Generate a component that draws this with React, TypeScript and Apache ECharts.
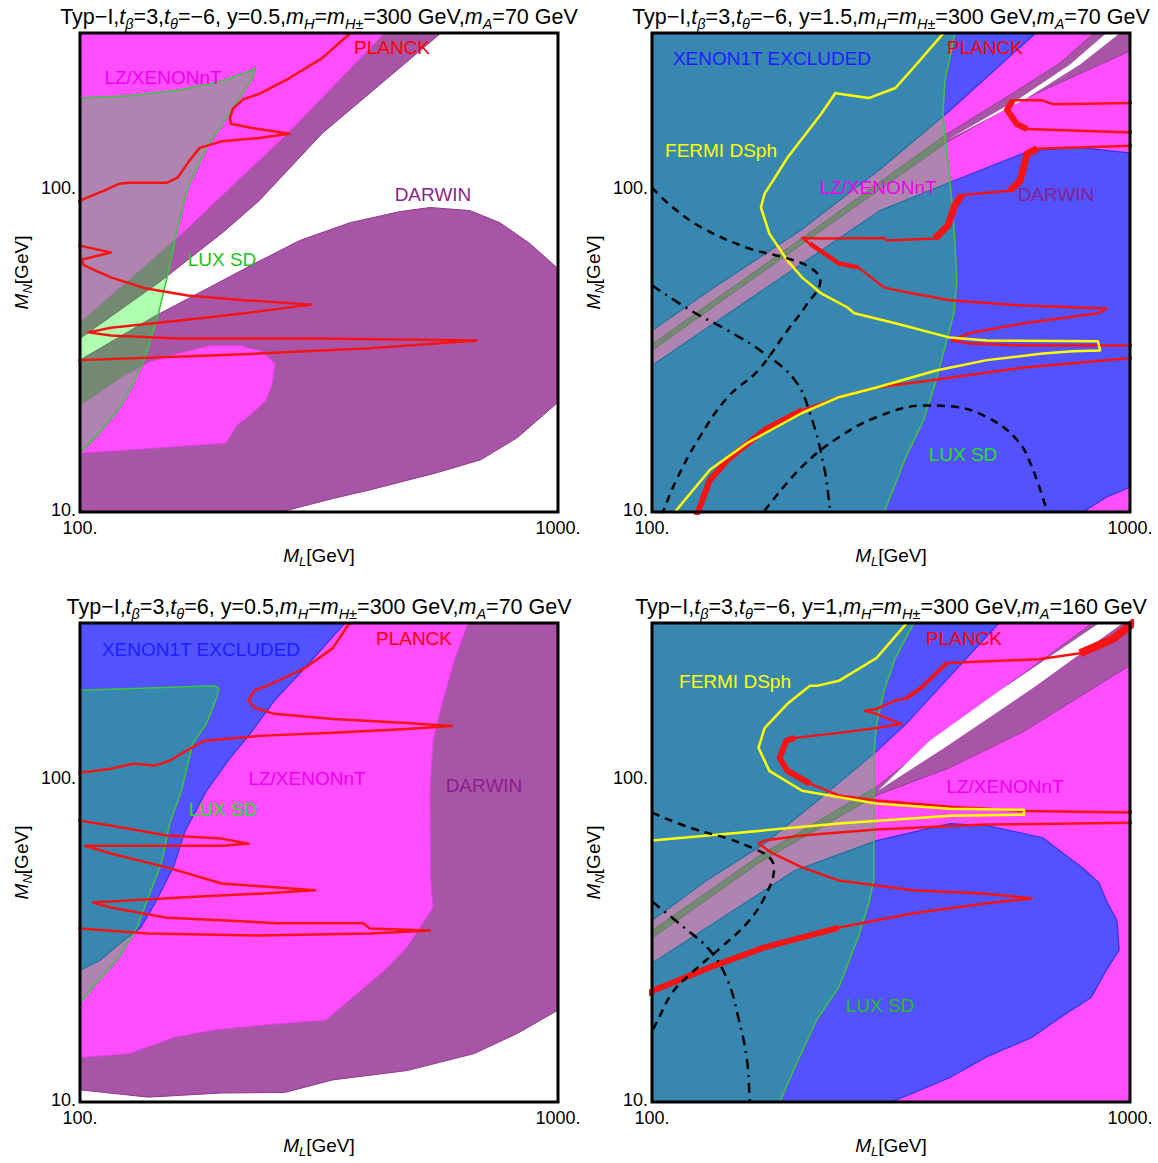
import React, { useEffect, useRef } from 'react';
import * as echarts from 'echarts';

type Pt = [number, number];

const FONT = '"Liberation Sans", Arial, Helvetica, sans-serif';

const C_LZ = '#FF4DFF';
const C_LZ_EDGE = '#E040E0';
const C_DARWIN = '#A855A8';
const C_DARWIN_EDGE = '#8C3A8C';
const C_XENON = '#5252FF';
const C_XENON_EDGE = '#3434E8';
const C_LUX = 'rgba(0,255,0,0.31)';
const C_LUX_EDGE = '#3EC43E';
const C_PLANCK = '#F51414';
const C_FERMI = '#FFFF00';
const C_WHITE = '#FFFFFF';
const T_LZ = '#F000F0';

// axis ranges / tick labels
const X_RANGE: Pt = [100, 1000];
const Y_RANGE: Pt = [10, 300];
const X_TICKS = [100, 1000];
const Y_TICKS = [10, 100];

// ---------------- Panel 1 ----------------
const p1DarwinUpper: Pt[] = [[90, 32], [100, 34.3], [148, 51.7], [201, 73.7], [237, 91.2], [321, 147], [566, 298], [640, 345], [90, 345]];
const p1LzUpper: Pt[] = [[90, 36], [100, 38.4], [166, 73.7], [193, 91.2], [272, 147], [432, 298], [485, 343], [90, 345]];
const p1DarwinLower: Pt[] = [[90, 27], [100, 29.4], [143, 40.1], [178, 47.5], [232, 58.4], [288, 68.7], [367, 78], [467, 84.4], [540, 86.9], [654, 85], [756, 78], [874, 67.2], [1000, 56.3], [1050, 52], [1050, 21], [1000, 21.8], [824, 17], [690, 14.5], [556, 13.2], [404, 11.7], [338, 11], [263, 10], [250, 9.5], [90, 9.5]];
const p1LzLower: Pt[] = [[95, 21], [100, 21.3], [110, 23.4], [122, 26], [139, 28.9], [160, 30.8], [188, 32.6], [216, 32.6], [240, 31.3], [256, 28.7], [252, 24.6], [245, 22.1], [227, 19.9], [213, 18.5], [202, 16.3], [140, 15.7], [102, 15.2], [95, 15.2]];
const p1Lux: Pt[] = [[90, 189], [100, 189], [127, 192], [162, 200], [198, 213], [227, 229], [233, 234], [230, 219], [205, 169], [184, 133], [168, 100], [160, 75], [154, 57], [146, 41], [137, 30], [128, 24.2], [120, 20.6], [110, 17.6], [100, 15.2], [90, 14]];
const p1PlanckA: Pt[] = [[368, 300], [321, 251], [274, 217.5], [237, 194.6], [220, 187.6], [209, 175.7], [206, 164.2], [207, 157.4], [229, 152.8], [274, 146.6], [237, 142.3], [198, 139], [178, 132.7], [169, 120.6], [160, 107.4], [152, 103.6], [127, 103.6], [120.6, 102.8], [112.3, 97.9], [100, 91.2], [97, 90]];
const p1PlanckB: Pt[] = [[98, 66.6], [100, 66.3], [116, 63.1], [100.6, 60], [102, 57.6], [116, 52.9], [136.8, 49], [168, 46.5], [221, 45], [305, 43.6], [221, 41], [160, 38.9], [116, 37], [104, 35.8], [116, 35], [160, 34.3], [315, 34.3], [676, 33.8], [404, 32], [237, 30.8], [188, 30.4], [100, 29.4], [97, 29.2]];

// ---------------- Panel 2 ----------------
const p2XenonAll: Pt[] = [[90, 9], [1100, 9], [1100, 330], [90, 330]];
const p2Lz: Pt[] = [[94, 34.3], [100, 36.3], [134, 49], [204, 73.7], [300, 114], [420, 173], [632, 298], [703, 343], [1100, 343], [1100, 128], [995, 128], [786, 133], [617, 130], [485, 113], [414, 103], [300, 85], [170, 48.2], [100, 28.3], [94, 26.5]];
const p2Darwin: Pt[] = [[94, 31.2], [100, 32.9], [204, 69.2], [414, 146.6], [569, 196], [713, 242], [837, 298], [887, 328], [1101, 283], [1000, 264], [569, 181], [414, 138], [204, 66.3], [100, 31.5], [94, 29.8]];
const p2White: Pt[] = [[900, 303], [749, 240], [589, 189], [414, 140], [609, 189], [786, 240], [962, 303]];
const p2LzCorner: Pt[] = [[780, 9.5], [797, 10], [892, 11.1], [1050, 12.3], [1050, 9.5]];
const p2Lux: Pt[] = [[90, 330], [430, 330], [430, 298], [410, 213], [406, 169], [416, 119], [424, 91.2], [430, 68.7], [434, 51.7], [428, 41], [410, 32.2], [393, 25.5], [370, 19.2], [340, 14.8], [306, 10], [302, 9.5], [90, 9.5]];
const p2Fermi: Pt[] = [[410, 310], [406, 298], [352, 234], [323, 203], [284, 189], [246, 195], [242, 196], [226, 169], [192, 123.7], [179, 105], [172, 95.9], [169, 86.9], [176, 72.2], [192, 59.6], [206, 52.9], [226, 47.2], [256, 42.8], [265, 41], [323, 38.2], [420, 34.5], [502, 33.8], [857, 33.6], [866, 31.5], [760, 31.3], [657, 30.8], [502, 29.4], [393, 27.3], [295, 24.2], [246, 22.6], [206, 20.2], [158, 16.3], [132.2, 13.5], [112.3, 10.1], [110, 9.8]];
const p2PlanckA: Pt[] = [[1050, 182.6], [690, 181], [654, 186], [569, 186], [553, 174], [580, 157], [609, 151.7], [1050, 147.6]];
const p2PlanckB: Pt[] = [[1050, 134.9], [640, 131.9], [609, 127.2], [589, 105], [561, 97.9], [445, 95], [430, 88.2], [416, 76.4], [391, 69.7], [310, 68.7], [306, 70], [226, 69.7], [206, 70], [214, 67.2], [246, 58.4], [270, 56.8], [306, 49.2], [352, 47.2], [420, 45], [600, 43.3], [892, 42.4], [857, 41], [600, 38.2], [461, 35.6], [424, 33.8], [461, 33.1], [600, 32.6], [1050, 32.6]];
const p2PlanckC: Pt[] = [[1050, 30], [600, 27.9], [385, 25.5], [295, 24.2], [246, 22.6], [206, 20.6], [172, 17.9], [144, 14.5], [132, 12.5], [124.8, 10], [123, 9.8]];
const p2PlanckThickA: Pt[] = [[569, 186], [553, 174], [580, 157], [609, 151.7]];
const p2PlanckThickB1: Pt[] = [[640, 131.9], [609, 127.2], [589, 105], [561, 97.9]];
const p2PlanckThickB2: Pt[] = [[445, 95], [430, 88.2], [416, 76.4], [391, 69.7]];
const p2PlanckThickB3: Pt[] = [[214, 67.2], [246, 58.4], [270, 56.8]];
const p2PlanckThickC: Pt[] = [[206, 20.6], [172, 17.9], [144, 14.5], [132, 12.5], [124.8, 10], [123, 9.8]];
const p2Dash1: Pt[] = [[100, 100], [110.6, 86.9], [127.2, 75.3], [158, 65.3], [189, 60.9], [214, 56.8], [225, 51.7], [210, 43.3], [192, 36.3], [166.6, 27.3], [144, 22.6], [124.8, 16.7], [112.3, 12.5], [105.4, 10], [105, 9.8]];
const p2DashDot: Pt[] = [[100, 50], [120.6, 41.8], [144, 36.3], [172, 30.8], [199, 25.5], [214, 20.2], [229, 13.8], [236, 10.1], [237, 9.8]];
const p2Dash2: Pt[] = [[172, 10.1], [206, 13.8], [246, 17], [295, 19.6], [370, 21.3], [420, 21.2], [502, 19.6], [580, 16.7], [623, 13.8], [670, 10.1]];

// ---------------- Panel 3 ----------------
const p3Darwin: Pt[] = [[90, 330], [1100, 330], [1100, 19.2], [1000, 19.2], [824, 16.3], [668, 14.1], [483, 12.5], [338, 11.7], [268, 10.7], [198, 10.66], [139, 10.35], [100, 10.9], [90, 10.9]];
const p3Lz: Pt[] = [[90, 328], [661, 328], [648, 298], [609, 234], [569, 164], [548, 130], [540, 91.2], [542, 48.2], [548, 39.8], [483, 30], [434, 25.5], [327, 17.9], [246, 17.3], [192, 16.7], [157, 15.8], [127, 14.1], [100, 13.7], [90, 13.6]];
const p3Xenon: Pt[] = [[90, 328], [374, 328], [357, 298], [295, 217.5], [255, 173], [229, 139], [206, 115], [184, 91.2], [166, 68.7], [157, 53.2], [143.5, 41], [134, 34.5], [122, 31.1], [110, 27.3], [100, 25.5], [90, 25]];
const p3Lux: Pt[] = [[90, 186], [100, 186], [139, 189], [192, 192], [195, 188], [193, 176], [184, 147], [172, 127], [163, 91.2], [154, 72.2], [149, 56.8], [146, 51.7], [139, 42.8], [131.6, 34.5], [120.6, 27.9], [108, 23.2], [100, 20.2], [90, 19.5]];
const p3PlanckA: Pt[] = [[398, 310], [365, 298], [338, 251], [295, 217.5], [246, 192], [232, 186], [225, 173], [232, 164], [255, 157.4], [338, 151.7], [483, 147.6], [600, 144.4], [483, 141.3], [338, 137.5], [237, 134.6], [182, 130], [166, 120.6], [154, 112.8], [143.5, 109], [129, 110.5], [116, 106.6], [100, 103.6], [97, 103]];
const p3PlanckB: Pt[] = [[97, 74.2], [100, 73.7], [116, 71.2], [152, 66.3], [198, 64.9], [225, 62.6], [198, 61.7], [139, 61.7], [102.4, 61.7], [116, 58.4], [152, 52.9], [198, 47.2], [310, 45], [237, 43.9], [166, 42.8], [106.5, 41.25], [116, 39.8], [152, 37], [202, 36.3], [259, 35.6], [391, 35.6], [404, 34.3], [540, 33.8], [404, 33.1], [237, 32.6], [139, 33.1], [100, 34.3], [97, 34.4]];

// ---------------- Panel 4 ----------------
const p4LzAll: Pt[] = [[90, 9], [1100, 9], [1100, 330], [90, 330]];
const p4XenonUpper: Pt[] = [[90, 330], [561, 330], [530, 298], [340, 146.6], [295, 120.6], [226, 86.9], [172, 62.6], [130, 48.2], [100, 36.3], [94, 34.3], [90, 34.3]];
const p4XenonLower: Pt[] = [[90, 25], [94, 25], [100, 26.8], [199, 51.7], [295, 64], [420, 72.2], [502, 71.2], [657, 65.3], [797, 52.6], [861, 47.5], [892, 41.8], [939, 36.3], [949, 29.4], [892, 25.5], [829, 21], [717, 18.3], [623, 15.8], [502, 13.8], [420, 11.9], [352, 10.66], [316, 10], [310, 9], [90, 9]];
const p4Darwin: Pt[] = [[866, 330], [829, 298], [502, 173], [352, 115], [295, 93.9], [168, 57.6], [100, 33.8], [94, 32], [94, 30.2], [100, 32], [168, 54.8], [295, 88.2], [420, 107.4], [600, 139], [1010, 224], [1160, 255], [1160, 330]];
const p4White: Pt[] = [[892, 330], [857, 298], [535, 186], [381, 130], [297, 91.2], [410, 124], [630, 190], [960, 298], [1010, 330]];
const p4Lux: Pt[] = [[90, 330], [355, 330], [352, 298], [323, 234], [306, 186], [295, 146.6], [291, 115], [291, 48.2], [284, 41], [270, 32.2], [246, 22.6], [221, 17.9], [199, 12.8], [185, 10], [183, 9], [90, 9]];
const p4Fermi: Pt[] = [[347, 316], [340, 298], [295, 234], [246, 199], [221, 192], [214, 192], [192, 169], [172, 142.3], [167, 123.7], [176, 105], [206, 91.2], [295, 83.2], [420, 80.2], [600, 79.6], [600, 76.9], [420, 76.4], [246, 72.2], [144, 67.2], [100, 64], [95, 63.5]];
const p4PlanckA: Pt[] = [[1050, 316], [1010, 298], [922, 268], [786, 242], [645, 232], [414, 225.8], [365, 189], [340, 175.7], [323, 172.9], [295, 163], [279, 160.8], [295, 157.4], [327, 147.6], [333, 146.6], [295, 142.3], [246, 137.5], [199, 132.7], [191, 130], [185, 115], [192, 105], [214, 95.9], [246, 88.2], [295, 85], [420, 81.4], [600, 79], [1050, 78]];
const p4PlanckB: Pt[] = [[1050, 72.7], [502, 71.7], [295, 69.2], [206, 66.3], [172, 64], [167, 62.6], [179, 58.4], [206, 52.9], [246, 48.2], [352, 45], [502, 43.9], [623, 42.4], [502, 41], [352, 38.2], [246, 34.5], [172, 30], [132, 26], [101, 22.1], [98, 21.6]];
const p4PlanckThickTop: Pt[] = [[1050, 316], [1010, 298], [922, 268], [786, 242]];
const p4PlanckThickMid: Pt[] = [[414, 225.8], [365, 189], [340, 175.7]];
const p4PlanckThickBend: Pt[] = [[199, 132.7], [191, 130], [185, 115], [192, 105], [214, 95.9]];
const p4PlanckThickLow: Pt[] = [[246, 34.5], [172, 30], [132, 26], [101, 22.1], [98, 21.6]];
const p4Dash: Pt[] = [[100, 78], [120.6, 70], [144, 64.9], [163.5, 60.4], [176, 56.8], [180, 52.6], [172, 42.8], [158, 35.6], [139.5, 30], [120.6, 24.9], [110, 21.6], [101, 17], [99, 16.5]];
const p4DashDot: Pt[] = [[100, 41.5], [116.7, 34.5], [132, 29.4], [144, 23.7], [152, 17.9], [158, 13.5], [160, 10.35], [160.3, 9.8]];

// ---------------- titles ----------------
const titles = [
  'Typ−I,{i|t}{s|β}=3,{i|t}{s|θ}=−6, y=0.5,{i|m}{s|H}={i|m}{s|H±}=300 GeV,{i|m}{s|A}=70 GeV',
  'Typ−I,{i|t}{s|β}=3,{i|t}{s|θ}=−6, y=1.5,{i|m}{s|H}={i|m}{s|H±}=300 GeV,{i|m}{s|A}=70 GeV',
  'Typ−I,{i|t}{s|β}=3,{i|t}{s|θ}=6, y=0.5,{i|m}{s|H}={i|m}{s|H±}=300 GeV,{i|m}{s|A}=70 GeV',
  'Typ−I,{i|t}{s|β}=3,{i|t}{s|θ}=−6, y=1,{i|m}{s|H}={i|m}{s|H±}=300 GeV,{i|m}{s|A}=160 GeV',
];

type Region = { pts: Pt[]; fill: string; stroke?: string; lw?: number };
type Line = { pts: Pt[]; color: string; width: number; dash?: number[]; smooth?: number };
type Label = { text: string; x: number; y: number; color: string };

const PW = 478;
const PH = 479;

const panels: { left: number; top: number; regions: Region[]; lines: Line[]; labels: Label[] }[] = [
  {
    left: 80, top: 33,
    regions: [
      { pts: p1DarwinUpper, fill: C_DARWIN, stroke: C_DARWIN_EDGE, lw: 1 },
      { pts: p1DarwinLower, fill: C_DARWIN, stroke: C_DARWIN_EDGE, lw: 1 },
      { pts: p1LzUpper, fill: C_LZ, stroke: C_LZ_EDGE, lw: 1 },
      { pts: p1LzLower, fill: C_LZ, stroke: C_LZ_EDGE, lw: 1 },
      { pts: p1Lux, fill: C_LUX, stroke: C_LUX_EDGE, lw: 1.5 },
    ],
    lines: [
      { pts: p1PlanckA, color: C_PLANCK, width: 2.5 },
      { pts: p1PlanckB, color: C_PLANCK, width: 2.5 },
    ],
    labels: [
      { text: 'LZ/XENONnT', x: 163, y: 77, color: T_LZ },
      { text: 'PLANCK', x: 392, y: 47, color: '#FF0000' },
      { text: 'DARWIN', x: 433, y: 194, color: '#8B1F8B' },
      { text: 'LUX SD', x: 222, y: 259, color: '#22C022' },
    ],
  },
  {
    left: 652, top: 33,
    regions: [
      { pts: p2XenonAll, fill: C_XENON },
      { pts: p2Lz, fill: C_LZ, stroke: C_XENON_EDGE, lw: 1.2 },
      { pts: p2Darwin, fill: C_DARWIN, stroke: C_DARWIN_EDGE, lw: 0.8 },
      { pts: p2White, fill: C_WHITE },
      { pts: p2LzCorner, fill: C_LZ, stroke: C_XENON_EDGE, lw: 1.2 },
      { pts: p2Lux, fill: C_LUX, stroke: C_LUX_EDGE, lw: 1.5 },
    ],
    lines: [
      { pts: p2PlanckA, color: C_PLANCK, width: 2.5 },
      { pts: p2PlanckB, color: C_PLANCK, width: 2.5 },
      { pts: p2PlanckC, color: C_PLANCK, width: 2.5 },
      { pts: p2PlanckThickA, color: C_PLANCK, width: 6 },
      { pts: p2PlanckThickB1, color: C_PLANCK, width: 7 },
      { pts: p2PlanckThickB2, color: C_PLANCK, width: 7 },
      { pts: p2PlanckThickB3, color: C_PLANCK, width: 4.5 },
      { pts: p2PlanckThickC, color: C_PLANCK, width: 6 },
      { pts: p2Fermi, color: C_FERMI, width: 2.5 },
      { pts: p2Dash1, color: '#000', width: 2.5, dash: [8, 6], smooth: 0.4 },
      { pts: p2DashDot, color: '#000', width: 2.5, dash: [10, 6, 2, 6], smooth: 0.4 },
      { pts: p2Dash2, color: '#000', width: 2.5, dash: [8, 6], smooth: 0.4 },
    ],
    labels: [
      { text: 'XENON1T EXCLUDED', x: 772, y: 58, color: '#1E1EFF' },
      { text: 'PLANCK', x: 985, y: 47, color: '#FF0000' },
      { text: 'FERMI DSph', x: 721, y: 150, color: '#FFFF00' },
      { text: 'LZ/XENONnT', x: 878, y: 187, color: T_LZ },
      { text: 'DARWIN', x: 1056, y: 194, color: '#8B1F8B' },
      { text: 'LUX SD', x: 963, y: 454, color: '#22E022' },
    ],
  },
  {
    left: 80, top: 623,
    regions: [
      { pts: p3Darwin, fill: C_DARWIN, stroke: C_DARWIN_EDGE, lw: 1 },
      { pts: p3Lz, fill: C_LZ, stroke: C_LZ_EDGE, lw: 1 },
      { pts: p3Xenon, fill: C_XENON, stroke: C_XENON_EDGE, lw: 1.2 },
      { pts: p3Lux, fill: C_LUX, stroke: C_LUX_EDGE, lw: 1.5 },
    ],
    lines: [
      { pts: p3PlanckA, color: C_PLANCK, width: 2.5 },
      { pts: p3PlanckB, color: C_PLANCK, width: 2.5 },
    ],
    labels: [
      { text: 'XENON1T EXCLUDED', x: 201, y: 649, color: '#1E1EFF' },
      { text: 'PLANCK', x: 414, y: 638, color: '#FF0000' },
      { text: 'LZ/XENONnT', x: 307, y: 778, color: T_LZ },
      { text: 'DARWIN', x: 484, y: 785, color: '#8B1F8B' },
      { text: 'LUX SD', x: 223, y: 809, color: '#22E022' },
    ],
  },
  {
    left: 652, top: 623,
    regions: [
      { pts: p4LzAll, fill: C_LZ },
      { pts: p4XenonUpper, fill: C_XENON, stroke: C_XENON_EDGE, lw: 1.2 },
      { pts: p4XenonLower, fill: C_XENON, stroke: C_XENON_EDGE, lw: 1.2 },
      { pts: p4Darwin, fill: C_DARWIN, stroke: C_DARWIN_EDGE, lw: 0.8 },
      { pts: p4White, fill: C_WHITE },
      { pts: p4Lux, fill: C_LUX, stroke: C_LUX_EDGE, lw: 1.5 },
    ],
    lines: [
      { pts: p4PlanckA, color: C_PLANCK, width: 2.5 },
      { pts: p4PlanckB, color: C_PLANCK, width: 2.5 },
      { pts: p4PlanckThickTop, color: C_PLANCK, width: 8 },
      { pts: p4PlanckThickMid, color: C_PLANCK, width: 4 },
      { pts: p4PlanckThickBend, color: C_PLANCK, width: 6 },
      { pts: p4PlanckThickLow, color: C_PLANCK, width: 6 },
      { pts: p4Fermi, color: C_FERMI, width: 2.5 },
      { pts: p4Dash, color: '#000', width: 2.5, dash: [8, 6], smooth: 0.4 },
      { pts: p4DashDot, color: '#000', width: 2.5, dash: [10, 6, 2, 6], smooth: 0.4 },
    ],
    labels: [
      { text: 'PLANCK', x: 964, y: 638, color: '#FF0000' },
      { text: 'FERMI DSph', x: 735, y: 681, color: '#FFFF00' },
      { text: 'LZ/XENONnT', x: 1005, y: 786, color: T_LZ },
      { text: 'LUX SD', x: 880, y: 1005, color: '#22C022' },
    ],
  },
];

function isTick(v: number, ticks: number[]) {
  return ticks.some((t) => Math.abs(Math.log10(v) - Math.log10(t)) < 0.005);
}

function buildOption() {
  const grid: any[] = [];
  const xAxis: any[] = [];
  const yAxis: any[] = [];
  const series: any[] = [];
  const elements: any[] = [];

  const nameRich = {
    i: { fontSize: 19, fontFamily: FONT, fontStyle: 'italic', color: '#000' },
    s: { fontSize: 13, fontFamily: FONT, fontStyle: 'italic', color: '#000', padding: [12, 0, 0, 0] },
  };
  const tickRich = {
    lo: { fontSize: 18, fontFamily: FONT, color: '#000', padding: [0, 0, 5, 0] },
  };

  panels.forEach((p, i) => {
    grid.push({ left: p.left, top: p.top, width: PW, height: PH });
    xAxis.push({
      type: 'log', logBase: 10, gridIndex: i, min: X_RANGE[0], max: X_RANGE[1],
      axisLine: { show: false }, axisTick: { show: false }, splitLine: { show: false },
      axisLabel: {
        fontSize: 18, fontFamily: FONT, color: '#000', margin: 7,
        formatter: (v: number) => (isTick(v, X_TICKS) ? `${Math.round(v)}.` : ''),
      },
      name: '{i|M}{s|L}[GeV]', nameLocation: 'middle', nameGap: 31,
      nameTextStyle: { fontSize: 19, fontFamily: FONT, color: '#000', rich: nameRich },
    });
    yAxis.push({
      type: 'log', logBase: 10, gridIndex: i, min: Y_RANGE[0], max: Y_RANGE[1],
      axisLine: { show: false }, axisTick: { show: false }, splitLine: { show: false },
      axisLabel: {
        fontSize: 18, fontFamily: FONT, color: '#000', margin: 4, rich: tickRich,
        formatter: (v: number) => {
          if (!isTick(v, Y_TICKS)) return '';
          const r = Math.round(v);
          return r === Y_TICKS[0] ? `{lo|${r}.}` : `${r}.`;
        },
      },
      name: '{i|M}{s|N}[GeV]', nameLocation: 'middle', nameGap: 46,
      nameTextStyle: { fontSize: 19, fontFamily: FONT, color: '#000', rich: nameRich },
    });

    let z = 1;
    p.regions.forEach((r) => {
      const pts = r.pts;
      series.push({
        type: 'custom', xAxisIndex: i, yAxisIndex: i, clip: true, silent: true, z: z++,
        data: pts,
        renderItem: (params: any, api: any) => {
          if (params.dataIndex !== 0) return null;
          return {
            type: 'polygon',
            shape: { points: pts.map((q) => api.coord(q)) },
            style: { fill: r.fill, stroke: r.stroke || 'none', lineWidth: r.lw || 0 },
          };
        },
      });
    });
    p.lines.forEach((l) => {
      series.push({
        type: 'line', xAxisIndex: i, yAxisIndex: i, data: l.pts, symbol: 'none', showSymbol: false,
        silent: true, clip: true, z: 20 + z++, smooth: l.smooth || false,
        lineStyle: { color: l.color, width: l.width, type: l.dash || 'solid', cap: 'butt', join: 'round' },
        emphasis: { disabled: true },
      });
    });

    p.labels.forEach((lb) => {
      elements.push({
        type: 'text', x: lb.x, y: lb.y, z: 100, silent: true,
        style: { text: lb.text, fill: lb.color, fontSize: 19, fontFamily: FONT, textAlign: 'center', textVerticalAlign: 'middle' },
      });
    });

    elements.push({
      type: 'text', x: p.left + PW / 2, y: p.top - 16, z: 100, silent: true,
      style: {
        text: titles[i], fill: '#000', fontSize: 21.5, fontFamily: FONT, textAlign: 'center', textVerticalAlign: 'middle',
        rich: {
          i: { fontSize: 21.5, fontFamily: FONT, fontStyle: 'italic', fill: '#000', textFill: '#000' },
          s: { fontSize: 14.5, fontFamily: FONT, fontStyle: 'italic', fill: '#000', textFill: '#000', padding: [14, 0, 0, 0] },
        },
      },
    });

    elements.push({
      type: 'rect', z: 110, silent: true,
      shape: { x: p.left, y: p.top, width: PW, height: PH },
      style: { fill: 'none', stroke: '#000', lineWidth: 3 },
    });
  });

  return {
    animation: false,
    backgroundColor: '#fff',
    textStyle: { fontFamily: FONT },
    grid, xAxis, yAxis, series,
    graphic: { elements },
  };
}

export default function App() {
  const ref = useRef<HTMLDivElement>(null);
  useEffect(() => {
    const chart = echarts.init(ref.current!, null, { renderer: 'svg' });
    chart.setOption(buildOption() as any);
    return () => chart.dispose();
  }, []);
  return (
    <div
      ref={ref}
      style={{ position: 'absolute', left: 0, top: 0, width: 1158, height: 1163, background: '#fff' }}
    />
  );
}
